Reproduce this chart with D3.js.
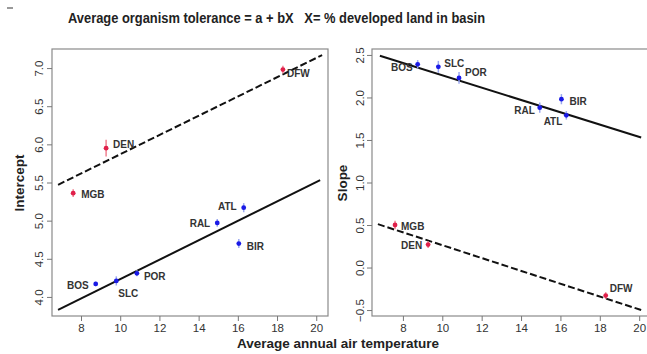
<!DOCTYPE html>
<html><head><meta charset="utf-8">
<script src="https://cdn.jsdelivr.net/npm/d3@7"></script>
<style>body{margin:0;background:#fff}svg{display:block}</style>
</head><body>
<svg id="c" width="647" height="354"></svg>
<script>
// ---- data ----
const cities      = ["BOS","SLC","POR","RAL","BIR","ATL","MGB","DEN","DFW"];
const groups      = ["a","a","a","a","a","a","b","b","b"];
const temperature = [8.75, 9.8, 10.85, 14.95, 16.05, 16.3, 7.6, 9.28, 18.3];
const intercept   = [4.17, 4.21, 4.31, 4.97, 4.70, 5.17, 5.36, 5.95, 6.98];
const interceptErr= [0.03, 0.06, 0.04, 0.05, 0.06, 0.06, 0.05, 0.11, 0.05];
const slope       = [2.39, 2.36, 2.23, 1.88, 1.98, 1.79, 0.50, 0.27, -0.33];
const slopeErr    = [0.05, 0.07, 0.07, 0.06, 0.06, 0.05, 0.05, 0.04, 0.04];
// fitted lines: [x0, y0, x1, y1] in data units
const interceptLineA = [6.83, 3.83, 20.2, 5.53];
const interceptLineB = [6.83, 5.47, 20.3, 7.17];
const slopeLineA     = [6.83, 2.49, 20.1, 1.53];
const slopeLineB     = [6.73, 0.51, 20.1, -0.50];
const xTicks = [8,10,12,14,16,18,20];
const interceptTicks = [4.0,4.5,5.0,5.5,6.0,6.5,7.0];
const slopeTicks = [-0.5,0.0,0.5,1.0,1.5,2.0,2.5];
const titleText = "Average organism tolerance = a + bX   X= % developed land in basin";

// ---- label placement (style) ----
const labelPosL = {BOS:["end",-7,2],SLC:["start",2,13],POR:["start",7,3],RAL:["end",-7,1],BIR:["start",8,3],ATL:["end",-7,-1],MGB:["start",8,1],DEN:["start",7,-4],DFW:["start",4,4]};
const labelPosR = {BOS:["end",-5,3],SLC:["start",6,-3],POR:["start",6,-5],RAL:["end",-5,3],BIR:["start",8,2],ATL:["end",-4,6],MGB:["start",6,1],DEN:["end",-6,1],DFW:["start",4,-7]};

const svg = d3.select("#c");
const blue = "#1a1ae6", red = "#e0204a";
const font = "Liberation Sans, Arial, sans-serif";

// title
svg.append("text").attr("x",68).attr("y",23).attr("font-family",font).attr("font-weight","bold")
  .attr("font-size",14).attr("fill","#222").style("white-space","pre").attr("xml:space","preserve")
  .attr("textLength",417).attr("lengthAdjust","spacingAndGlyphs")
  .text(titleText);
svg.append("line").attr("x1",7).attr("x2",13).attr("y1",8).attr("y2",8).attr("stroke","#777").attr("stroke-width",1.5);

function panel(opts){
  const g = svg.append("g");
  const x = d3.scaleLinear().domain(opts.xd).range(opts.xr);
  const y = d3.scaleLinear().domain(opts.yd).range([316,49]);
  // box
  g.append("rect").attr("x",opts.xr[0]).attr("y",49).attr("width",opts.xr[1]-opts.xr[0]).attr("height",267)
    .attr("fill","none").attr("stroke","#8a8a8a").attr("stroke-width",1.2);
  // x axis
  const xa = g.append("g").attr("transform","translate(0,316)")
    .call(d3.axisBottom(x).tickValues(xTicks).tickSize(5).tickSizeOuter(0).tickPadding(3).tickFormat(d3.format("d")));
  xa.select(".domain").remove();
  xa.selectAll("line").attr("stroke","#777");
  xa.selectAll("text").attr("font-family",font).attr("font-size",11.5).attr("fill","#333");
  // y axis
  const ya = g.append("g").attr("transform",`translate(${opts.xr[0]},0)`)
    .call(d3.axisLeft(y).tickValues(opts.yt).tickSize(5).tickSizeOuter(0).tickFormat(d3.format(".1f")));
  ya.select(".domain").remove();
  ya.selectAll("line").attr("stroke","#777");
  ya.selectAll(".tick text").attr("font-family",font).attr("font-size",11.5).attr("fill","#333")
    .attr("text-anchor","middle").attr("x",null).attr("y",null).attr("dx",null)
    .attr("transform",`translate(${opts.ylx - opts.xr[0]},0) rotate(-90)`).attr("dy","0.35em");
  // y title
  g.append("text").attr("transform",`translate(${opts.ytx},183) rotate(-90)`).attr("text-anchor","middle")
    .attr("font-family",font).attr("font-weight","bold").attr("font-size",13.5).attr("fill","#222").text(opts.ytitle);
  // lines
  const clip = "c"+opts.id;
  g.append("clipPath").attr("id",clip).append("rect").attr("x",opts.xr[0]).attr("y",49).attr("width",opts.xr[1]-opts.xr[0]).attr("height",267);
  [[opts.la,null],[opts.lb,"7,3"]].forEach(([l,dash])=>{
    g.append("line").attr("clip-path",`url(#${clip})`)
      .attr("x1",x(l[0])).attr("y1",y(l[1])).attr("x2",x(l[2])).attr("y2",y(l[3]))
      .attr("stroke","#111").attr("stroke-width",2).attr("stroke-dasharray",dash);
  });
  // points
  cities.forEach((c,i)=>{
    const col = groups[i]==="a"?blue:red;
    const px = x(temperature[i]), py = y(opts.v[i]);
    g.append("line").attr("x1",px).attr("x2",px).attr("y1",y(opts.v[i]-opts.e[i])).attr("y2",y(opts.v[i]+opts.e[i]))
      .attr("stroke",groups[i]==="a"?"#9aa8f0":"#f08090").attr("stroke-width",1.5);
    g.append("circle").attr("cx",px).attr("cy",py).attr("r",2.4).attr("fill",col);
    const p = opts.lp[c];
    g.append("text").attr("x",px+p[1]).attr("y",py+p[2]).attr("dy","0.35em").attr("text-anchor",p[0])
      .attr("font-family",font).attr("font-weight","bold").attr("font-size",10).attr("fill","#333").text(c);
  });
}

panel({id:"L",xd:[6.52,20.6],xr:[52,328],yd:[3.75,7.25],yt:interceptTicks,v:intercept,e:interceptErr,
  la:interceptLineA,lb:interceptLineB,lp:labelPosL,ylx:39,ytx:24,ytitle:"Intercept"});
panel({id:"R",xd:[6.43,20.6],xr:[372,651],yd:[-0.57,2.57],yt:slopeTicks,v:slope,e:slopeErr,
  la:slopeLineA,lb:slopeLineB,lp:labelPosR,ylx:360,ytx:347,ytitle:"Slope"});

svg.append("text").attr("x",338).attr("y",348).attr("text-anchor","middle").attr("font-family",font)
  .attr("font-weight","bold").attr("font-size",13.5).attr("fill","#222").text("Average annual air temperature");
</script>
</body></html>
